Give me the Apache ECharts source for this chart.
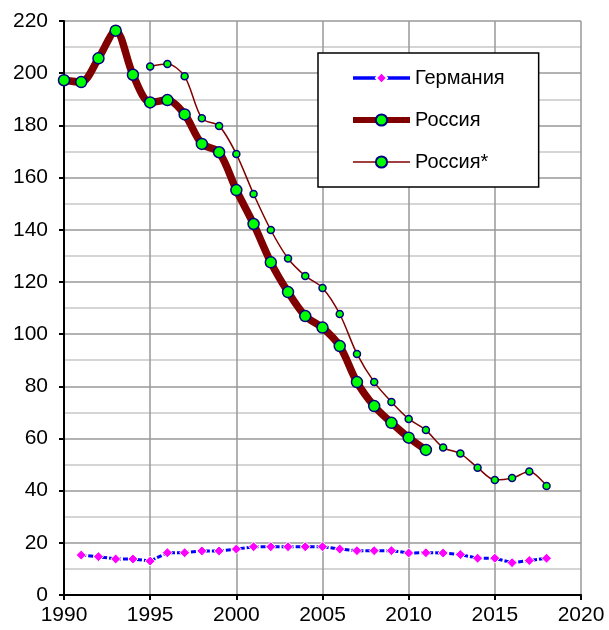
<!DOCTYPE html>
<html><head><meta charset="utf-8">
<script src="https://cdn.jsdelivr.net/npm/echarts@6/dist/echarts.min.js"></script>
<style>html,body{margin:0;padding:0;background:#fff}#c{width:609px;height:630px}</style>
</head><body><div id="c"></div>
<script>
const germanyYears = [1991,1992,1993,1994,1995,1996,1997,1998,1999,2000,2001,2002,2003,2004,2005,2006,2007,2008,2009,2010,2011,2012,2013,2014,2015,2016,2017,2018];
const germanyValues = [15.3,14.7,13.8,13.8,13.0,16.2,16.2,16.9,16.9,17.6,18.5,18.5,18.5,18.5,18.5,17.6,17.0,17.0,17.0,16.1,16.2,16.1,15.5,14.1,14.1,12.4,13.2,14.1];
const russiaYears = [1990,1991,1992,1993,1994,1995,1996,1997,1998,1999,2000,2001,2002,2003,2004,2005,2006,2007,2008,2009,2010,2011];
const russiaValues = [197.3,196.6,205.7,216.3,199.4,188.8,189.7,184.2,172.9,169.7,155.2,142.2,127.5,116.1,106.9,102.5,95.4,81.6,72.4,66.0,60.3,55.6];
const russia2Years = [1995,1996,1997,1998,1999,2000,2001,2002,2003,2004,2005,2006,2007,2008,2009,2010,2011,2012,2013,2014,2015,2016,2017,2018];
const russia2Values = [202.6,203.5,198.8,182.7,179.8,169.0,153.7,139.9,129.0,122.3,117.7,107.7,92.4,81.6,74.0,67.5,63.2,56.5,54.2,48.8,44.1,44.8,47.3,41.8];
const seriesNames = ['Германия','Россия','Россия*'];

const pairs = (xs, ys) => xs.map((x, i) => [x, ys[i]]);
const FONT = 'Liberation Sans, Arial, sans-serif';

const chart = echarts.init(document.getElementById('c'), null, {renderer: 'canvas'});
chart.setOption({
  animation: false,
  backgroundColor: '#fff',
  grid: {left: 64, right: 28, top: 21, bottom: 35},
  legend: {
    orient: 'vertical',
    left: 318, top: 53,
    backgroundColor: '#fff',
    borderColor: '#000', borderWidth: 1.5,
    padding: [15, 34, 15, 32],
    itemGap: 22,
    itemWidth: 57, itemHeight: 14,
    textStyle: {fontFamily: FONT, fontSize: 20, color: '#000', lineHeight: 20},
    data: [
      {name: seriesNames[0], lineStyle: {width: 3.5, type: 'solid', color: '#0000ff'}},
      {name: seriesNames[1], lineStyle: {width: 6, color: '#800000'}},
      {name: seriesNames[2], lineStyle: {width: 1.5, color: '#800000'}}
    ]
  },
  xAxis: {
    type: 'value', min: 1990, max: 2020, interval: 5,
    axisLine: {onZero: false, lineStyle: {color: '#000', width: 2}},
    axisTick: {show: true, length: 5, lineStyle: {color: '#000', width: 2}},
    axisLabel: {fontFamily: FONT, fontSize: 21, color: '#000', margin: 10, formatter: v => String(v)},
    splitLine: {show: true, lineStyle: {color: '#999', width: 1.5}}
  },
  yAxis: {
    type: 'value', min: 0, max: 220, interval: 20,
    axisLine: {show: true, lineStyle: {color: '#000', width: 2}},
    axisTick: {show: true, length: 5, lineStyle: {color: '#000', width: 2}},
    axisLabel: {fontFamily: FONT, fontSize: 21, color: '#000', margin: 16},
    splitLine: {show: true, lineStyle: {color: '#999', width: 1.5}},
    minorTick: {show: false, splitNumber: 2},
    minorSplitLine: {show: true, lineStyle: {color: '#c8c8c8', width: 1.5}}
  },
  series: [
    {
      name: seriesNames[0], type: 'line', data: pairs(germanyYears, germanyValues),
      symbol: 'diamond', symbolSize: 10, showAllSymbol: true,
      lineStyle: {color: '#0000ff', width: 3, type: [5, 2]},
      itemStyle: {color: '#ff00ff', borderColor: '#fff', borderWidth: 1},
      z: 3
    },
    {
      name: seriesNames[1], type: 'line', data: pairs(russiaYears, russiaValues),
      smooth: 0.3, symbol: 'circle', symbolSize: 11, showAllSymbol: true,
      lineStyle: {color: '#800000', width: 7.5},
      itemStyle: {color: '#00ff00', borderColor: '#000080', borderWidth: 1.5},
      z: 2
    },
    {
      name: seriesNames[2], type: 'line', data: pairs(russia2Years, russia2Values),
      smooth: 0.3, symbol: 'circle', symbolSize: 7, showAllSymbol: true,
      lineStyle: {color: '#800000', width: 1.5},
      itemStyle: {color: '#00ff00', borderColor: '#000080', borderWidth: 1.5},
      z: 4
    }
  ]
});
</script></body></html>
